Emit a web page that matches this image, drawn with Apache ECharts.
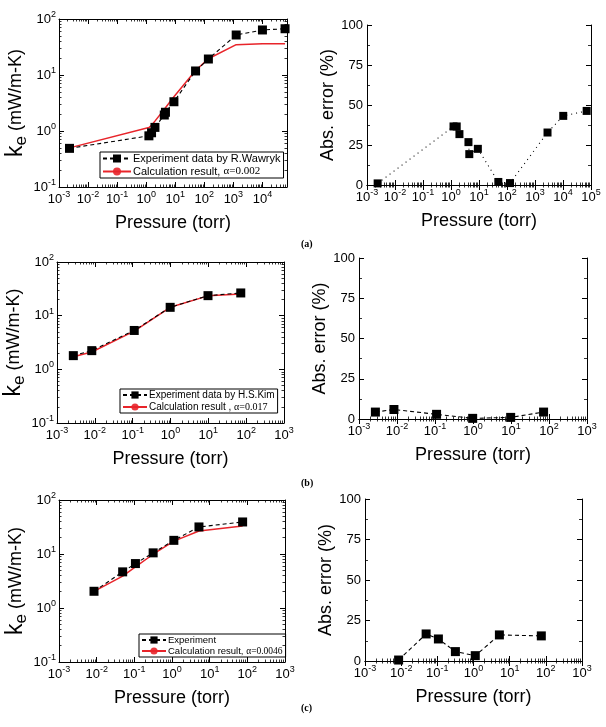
<!DOCTYPE html>
<html>
<head>
<meta charset="utf-8">
<script src="https://cdn.jsdelivr.net/npm/echarts@6/dist/echarts.min.js"></script>
<style>
  html, body { margin: 0; padding: 0; background: #fff; }
  #main { width: 606px; height: 727px; }
</style>
</head>
<body>
<div id="main"></div>
<script>
// 字体
const FONT = 'Liberation Sans, Arial, sans-serif';
const SERIF = 'Liberation Serif, Times New Roman, serif';

// ---- (a) R.Wawryk ----
const aExpP = [0.0023, 1.24, 1.53, 2.0, 4.2, 4.6, 9.0, 50, 138, 1250, 10000, 60000];
const aExpK = [0.49, 0.82, 0.93, 1.16, 1.93, 2.16, 3.33, 11.8, 19.3, 51.8, 63.7, 67];
const aCalcK = [0.5, 1.15, 1.27, 1.5, 2.45, 2.6, 4.1, 12.0, 19.5, 34.8, 36.2, 36.2];
const aErrP = [0.0024, 1.23, 1.6, 2.0, 4.2, 4.5, 9.1, 49, 128, 2800, 10200, 70000];
const aErr = [1.0, 36.6, 36.6, 31.8, 26.8, 19.3, 22.6, 1.9, 1.2, 32.8, 43.2, 46.3];

// ---- (b) H.S.Kim ----
const bP = [0.0027, 0.0083, 0.11, 0.98, 9.8, 72];
const bExpK = [1.8, 2.23, 5.3, 14.3, 23.6, 26.5];
const bCalcK = [1.72, 2.1, 5.15, 14.3, 23.4, 25.4];
const bErr = [4.3, 5.9, 2.9, 0.4, 1.0, 4.3];

// ---- (c) Experiment ----
const cP = [0.0085, 0.049, 0.107, 0.316, 1.12, 5.2, 75];
const cExpK = [2.04, 4.67, 6.65, 10.5, 17.9, 31.7, 39.2];
const cCalcK = [2.03, 3.9, 5.75, 9.9, 17.3, 26.6, 33.1];
const cErr = [0.6, 16.7, 13.6, 5.8, 3.3, 16.1, 15.5];

// 刻度
const errTicks = [0, 25, 50, 75, 100];
const pRangeA = [1e-3, 7e4];
const pRangeAErr = [1e-3, 1e5];
const pRange = [1e-3, 1e3];
const kRange = [0.1, 100];

// 系列名称
const names = {
  aExp: 'Experiment data by R.Wawryk',
  aCalc: 'Calculation result, α=0.002',
  bExp: 'Experiment data by H.S.Kim',
  bCalc: 'Calculation result , α=0.017',
  cExp: 'Experiment',
  cCalc: 'Calculation result, α=0.0046'
};

function zip(xs, ys) {
  return xs.map((x, i) => [x, ys[i]]);
}

// 10^n 标签
function powLabel(v) {
  const e = Math.log10(v);
  const r = Math.round(e);
  if (Math.abs(e - r) > 1e-6) return '';
  return '{b|10}{s|' + r + '}';
}

const powRich = {
  b: { fontSize: 13, fontFamily: FONT, color: '#000', lineHeight: 18 },
  s: { fontSize: 9, fontFamily: FONT, color: '#000', lineHeight: 10, verticalAlign: 'top' }
};

const grids = [
  { left: 59, top: 19, width: 228, height: 168 },
  { left: 367, top: 25, width: 224, height: 160 },
  { left: 57, top: 262, width: 227, height: 161 },
  { left: 359, top: 258, width: 228, height: 161 },
  { left: 59, top: 500, width: 226, height: 162 },
  { left: 365, top: 499, width: 217, height: 162 }
];

const xRanges = [pRangeA, pRangeAErr, pRange, pRange, pRange, pRange];

const lineBlack = { color: '#000', width: 1 };

function xAxisPair(g) {
  const r = xRanges[g];
  const base = {
    type: 'log', gridIndex: g, min: r[0], max: r[1], logBase: 10,
    axisLine: { lineStyle: lineBlack },
    axisTick: { inside: true, length: 5, lineStyle: lineBlack },
    minorTick: { show: true, splitNumber: 9, length: 2.5, lineStyle: { color: '#000', width: 0.8 } },
    splitLine: { show: false }
  };
  return [
    Object.assign({}, base, {
      position: 'bottom',
      name: 'Pressure (torr)', nameLocation: 'middle', nameGap: 27,
      nameTextStyle: { fontSize: 18, fontFamily: FONT, color: '#000' },
      axisLabel: { margin: 3, formatter: powLabel, rich: powRich, showMinLabel: true, showMaxLabel: true }
    }),
    Object.assign({}, base, { position: 'top', axisLabel: { show: false } })
  ];
}

function yAxisPair(g) {
  const isErr = g % 2 === 1;
  let base;
  if (isErr) {
    base = {
      type: 'value', gridIndex: g, min: errTicks[0], max: errTicks[errTicks.length - 1], interval: 25,
      axisLine: { lineStyle: lineBlack },
      axisTick: { inside: true, length: 5, lineStyle: lineBlack },
      minorTick: { show: true, splitNumber: 2, length: 3, lineStyle: { color: '#000', width: 0.8 } },
      splitLine: { show: false }
    };
  } else {
    base = {
      type: 'log', gridIndex: g, min: kRange[0], max: kRange[1], logBase: 10,
      axisLine: { lineStyle: lineBlack },
      axisTick: { inside: true, length: 5, lineStyle: lineBlack },
      minorTick: { show: true, splitNumber: 9, length: 2.5, lineStyle: { color: '#000', width: 0.8 } },
      splitLine: { show: false }
    };
  }
  const left = Object.assign({}, base, { position: 'left' });
  if (isErr) {
    left.name = 'Abs. error (%)';
    left.nameGap = 30;
    left.nameTextStyle = { fontSize: 18, fontFamily: FONT, color: '#000' };
    left.axisLabel = { margin: 4, fontSize: 13, fontFamily: FONT, color: '#000' };
  } else {
    left.name = '{k|k}{e|e}{t| (mW/m-K)}';
    left.nameGap = 24;
    left.nameTextStyle = {
      rich: {
        k: { fontSize: 23, fontFamily: FONT, color: '#000', lineHeight: 28 },
        e: { fontSize: 17, fontFamily: FONT, color: '#000', lineHeight: 16, verticalAlign: 'bottom' },
        t: { fontSize: 18, fontFamily: FONT, color: '#000', lineHeight: 28 }
      }
    };
    left.axisLabel = { margin: 3, formatter: powLabel, rich: powRich };
  }
  left.nameLocation = 'middle';
  return [left, Object.assign({}, base, { position: 'right', axisLabel: { show: false } })];
}

const xAxis = [];
const yAxis = [];
for (let g = 0; g < grids.length; g++) {
  xAxis.push(...xAxisPair(g));
  yAxis.push(...yAxisPair(g));
}

// 实验数据（黑色方块，虚线）
function expSeries(name, g, data, dash) {
  return {
    name: name, type: 'line', xAxisIndex: 2 * g, yAxisIndex: 2 * g, data: data,
    symbol: 'rect', symbolSize: 9, z: 5,
    itemStyle: { color: '#000' },
    lineStyle: { color: '#000', width: 1.1, type: dash },
    animation: false
  };
}

// 计算结果（红线）
function calcSeries(name, g, data) {
  return {
    name: name, type: 'line', xAxisIndex: 2 * g, yAxisIndex: 2 * g, data: data,
    symbol: 'none', z: 3,
    itemStyle: { color: '#e8242a' },
    lineStyle: { color: '#e8242a', width: 1.5 },
    animation: false
  };
}

const series = [
  calcSeries(names.aCalc, 0, zip(aExpP, aCalcK)),
  expSeries(names.aExp, 0, zip(aExpP, aExpK), [4, 3]),
  expSeries('err-a', 1, zip(aErrP, aErr), [1, 4]),
  calcSeries(names.bCalc, 2, zip(bP, bCalcK)),
  expSeries(names.bExp, 2, zip(bP, bExpK), [4, 3]),
  expSeries('err-b', 3, zip(bP, bErr), [4, 3]),
  calcSeries(names.cCalc, 4, zip(cP, cCalcK)),
  expSeries(names.cExp, 4, zip(cP, cExpK), [4, 3]),
  expSeries('err-c', 5, zip(cP, cErr), [4, 3])
];
series[2].symbolSize = 8;

function alphaFmt(name) {
  const i = name.indexOf('α');
  if (i < 0) return name;
  return name.slice(0, i) + '{g|' + name.slice(i) + '}';
}

// 计算结果图例：只留红线和小点
function calcItem(name) {
  return { name: name, itemStyle: { color: '#e8242a', opacity: 0.9, borderWidth: 0 }, symbolSize: 3 };
}

function legendBox(data, left, top, fontSize, itemWidth, itemHeight, gap) {
  return {
    data: data, orient: 'vertical', left: left, top: top,
    itemWidth: itemWidth, itemHeight: itemHeight, itemGap: gap,
    padding: [1, 3, 1, 2], borderColor: '#000', borderWidth: 1,
    selectedMode: false, formatter: alphaFmt,
    textStyle: {
      fontSize: fontSize, fontFamily: FONT, color: '#000', padding: [0, 0, 0, -3],
      rich: { g: { fontSize: fontSize, fontFamily: SERIF, color: '#000' } }
    }
  };
}

const legend = [
  legendBox([names.aExp, calcItem(names.aCalc)], 100, 152, 11, 28, 10, 2),
  legendBox([names.bExp, calcItem(names.bCalc)], 120, 389, 10, 24, 9, 2),
  legendBox([names.cExp, calcItem(names.cCalc)], 139, 634, 9.5, 24, 9, 1)
];

const labelStyle = { fontSize: 10, fontFamily: SERIF, fontWeight: 'bold', color: '#000' };
const title = [
  { text: '(a)', left: 301, top: 239, padding: 0, textStyle: labelStyle },
  { text: '(b)', left: 301, top: 478, padding: 0, textStyle: labelStyle },
  { text: '(c)', left: 301, top: 703, padding: 0, textStyle: labelStyle }
];

const chart = echarts.init(document.getElementById('main'), null, { renderer: 'canvas' });
chart.setOption({
  backgroundColor: '#fff',
  animation: false,
  title: title,
  legend: legend,
  grid: grids,
  xAxis: xAxis,
  yAxis: yAxis,
  series: series
});
</script>
</body>
</html>
